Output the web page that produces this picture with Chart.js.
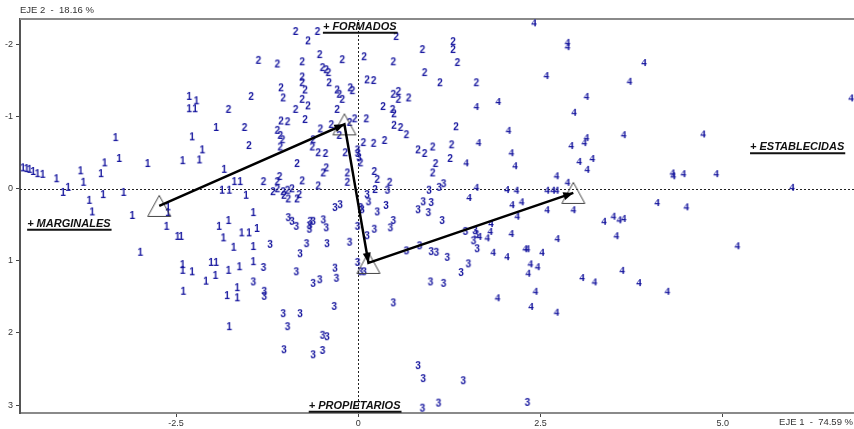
<!DOCTYPE html>
<html>
<head>
<meta charset="utf-8">
<script src="https://cdn.jsdelivr.net/npm/chart.js@4"></script>
<style>
html, body { margin: 0; padding: 0; background: #fff; }
#wrap { width: 854px; height: 429px; position: relative; }
</style>
</head>
<body>
<div id="wrap"><canvas id="mapChart"></canvas></div>
<script>
// axis ticks
const xTicks = [-2.5, 0, 2.5, 5.0];
const xTickLabels = ['-2.5', '0', '2.5', '5.0'];
const yTicks = [-2, -1, 0, 1, 2, 3];
const xTitle = 'EJE 1  -  74.59 %';
const yTitle = 'EJE 2  -  18.16 %';

// individuals, coordinates on (eje 1, eje 2)
const group1 = [
    [-4.60,-0.28],[-4.55,-0.27],[-4.51,-0.26],[-4.46,-0.23],[-4.40,-0.20],[-4.33,-0.19],[-4.14,-0.13],[-4.05,0.06],
    [-3.98,-0.01],[-3.81,-0.24],[-3.77,-0.08],[-3.69,0.17],[-3.65,0.33],[-3.53,-0.20],[-3.50,0.09],[-3.48,-0.35],
    [-3.33,-0.70],[-3.28,-0.41],[-3.22,0.06],[-3.10,0.38],[-2.99,0.89],[-2.89,-0.34],[-2.63,0.53],[-2.61,0.26],
    [-2.61,0.34],[-2.48,0.67],[-2.43,0.67],[-2.41,-0.38],[-2.41,1.06],[-2.41,1.14],[-2.40,1.43],[-2.32,-1.27],
    [-2.32,-1.10],[-2.24,-1.10],[-2.22,-1.21],[-2.28,-0.71],[-2.28,1.16],[-2.18,-0.39],[-2.14,-0.53],[-2.09,1.29],
    [-2.02,1.03],[-1.95,1.03],[-1.96,1.21],[-1.95,-0.84],[-1.91,0.53],[-1.87,0.03],[-1.77,0.03],[-1.85,0.69],
    [-1.84,-0.26],[-1.78,0.45],[-1.78,1.14],[-1.80,1.49],[-1.77,1.92],[-1.71,0.82],[-1.70,-0.09],[-1.62,-0.09],
    [-1.66,1.38],[-1.66,1.52],[-1.63,1.09],[-1.60,0.62],[-1.54,0.10],[-1.50,0.62],[-1.44,0.34],[-1.44,0.81],
    [-1.44,1.02],[-1.39,0.56]
];
const group2 = [
    [-0.86,-2.17],[-0.69,-2.04],[-0.56,-2.17],[0.52,-2.10],[0.88,-1.92],[1.30,-2.03],[1.30,-1.92],[1.36,-1.74],
    [-1.37,-1.77],[-1.11,-1.72],[-0.77,-1.75],[-0.53,-1.85],[-0.49,-1.67],[-0.44,-1.64],[-0.41,-1.60],[-0.22,-1.78],
    [0.08,-1.82],[0.48,-1.75],[0.91,-1.60],[-0.77,-1.54],[-0.77,-1.46],[-0.73,-1.36],[-1.06,-1.39],[-1.03,-1.25],
    [-1.47,-1.27],[-0.77,-1.23],[-0.69,-1.14],[-0.86,-1.09],[-1.78,-1.09],[-0.40,-1.46],[-0.29,-1.36],[-0.26,-1.30],
    [-0.22,-1.23],[-0.11,-1.39],[-0.08,-1.35],[0.12,-1.50],[0.21,-1.49],[1.12,-1.46],[1.62,-1.46],[0.48,-1.30],
    [0.55,-1.34],[0.55,-1.23],[0.69,-1.25],[-0.29,-1.09],[0.34,-1.13],[0.47,-1.09],[0.49,-1.03],[-1.06,-0.93],
    [-0.97,-0.92],[-0.73,-0.95],[-1.56,-0.84],[-1.11,-0.80],[-1.07,-0.73],[-0.52,-0.82],[-0.37,-0.88],[-0.12,-0.91],
    [-0.05,-0.96],[0.11,-0.96],[0.49,-0.87],[0.58,-0.84],[0.66,-0.74],[1.34,-0.85],[-0.26,-0.73],[0.07,-0.63],
    [0.21,-0.62],[0.36,-0.66],[1.02,-0.57],[1.28,-0.60],[0.82,-0.53],[0.91,-0.48],[1.06,-0.34],[1.02,-0.21],
    [1.26,-0.41],[-1.04,-0.67],[-1.07,-0.57],[-1.50,-0.59],[-0.62,-0.67],[-0.63,-0.57],[-0.55,-0.49],[-0.45,-0.48],
    [-0.84,-0.34],[-0.44,-0.28],[-0.48,-0.21],[-1.30,-0.09],[-1.08,-0.16],[-1.11,-0.09],[-0.77,-0.10],[-0.55,-0.03],
    [-1.17,0.05],[-1.11,0.01],[-1.03,0.05],[-0.97,0.03],[-0.91,0.01],[-1.02,0.10],[-0.96,0.15],[-0.84,0.15],
    [-0.81,0.09],[-0.15,-0.21],[-0.15,-0.08],[-0.18,-0.49],[0.03,-0.35],[0.22,-0.23],[0.26,-0.12],[0.43,-0.08],
    [0.23,0.02]
];
const group3 = [
    [-0.01,-0.53],[-0.01,-0.48],[0.01,-0.42],[0.12,0.09],[0.14,0.19],[0.03,0.27],[0.05,0.30],[-0.32,0.27],
    [-0.25,0.23],[0.26,0.33],[0.38,0.24],[0.40,0.03],[0.97,0.03],[1.11,-0.01],[1.17,-0.06],[0.89,0.19],
    [1.00,0.20],[0.82,0.30],[0.96,0.34],[1.15,0.45],[0.48,0.45],[0.44,0.55],[0.22,0.57],[-0.01,0.53],
    [0.12,0.66],[-0.66,0.46],[-0.62,0.46],[-0.67,0.52],[-0.67,0.57],[-0.48,0.44],[-0.44,0.55],[-0.96,0.41],
    [-0.91,0.46],[-0.85,0.53],[-0.71,0.77],[-0.43,0.77],[-0.12,0.75],[-0.80,0.91],[-1.21,0.78],[1.47,0.60],
    [1.60,0.59],[1.62,0.64],[1.58,0.73],[1.63,0.84],[0.66,0.87],[0.84,0.80],[1.00,0.88],[1.07,0.89],
    [1.22,0.96],[1.51,1.05],[1.41,1.17],[-0.01,1.03],[0.03,1.16],[0.08,1.16],[-0.32,1.11],[-0.30,1.25],
    [-0.62,1.32],[-0.53,1.27],[0.99,1.30],[1.17,1.32],[-1.30,1.10],[-0.85,1.16],[-1.44,1.30],[-1.29,1.43],
    [-1.29,1.50],[-0.33,1.64],[-1.03,1.74],[-0.80,1.74],[-0.97,1.92],[-0.49,2.04],[-0.43,2.06],[-1.02,2.24],
    [-0.62,2.31],[-0.49,2.25],[0.48,1.59],[0.82,2.46],[0.89,2.64],[1.44,2.67],[1.10,2.98],[0.88,3.05],
    [2.32,2.97]
];
const group4 = [
    [2.41,-2.29],[2.87,-2.02],[2.87,-1.96],[2.58,-1.56],[3.13,-1.27],[2.96,-1.05],[3.13,-0.70],[3.10,-0.63],
    [2.92,-0.59],[1.62,-1.13],[1.92,-1.20],[1.65,-0.63],[2.06,-0.80],[3.92,-1.74],[3.72,-1.48],[6.76,-1.25],
    [3.64,-0.74],[4.73,-0.75],[2.10,-0.49],[1.48,-0.35],[2.15,-0.31],[3.03,-0.37],[3.21,-0.41],[3.14,-0.26],
    [2.72,-0.17],[2.87,-0.08],[1.62,-0.01],[1.52,0.13],[2.04,0.02],[2.17,0.03],[2.59,0.03],[2.67,0.03],
    [2.72,0.03],[2.11,0.23],[2.24,0.19],[2.59,0.30],[2.95,0.30],[2.18,0.39],[1.82,0.49],[1.81,0.60],
    [1.66,0.67],[1.77,0.69],[2.10,0.63],[2.73,0.70],[1.85,0.89],[2.04,0.95],[2.29,0.84],[2.32,0.84],
    [2.52,0.89],[2.36,1.05],[2.46,1.09],[2.33,1.18],[3.07,1.24],[3.24,1.30],[2.43,1.43],[1.91,1.52],
    [2.37,1.64],[2.72,1.72],[4.31,-0.21],[4.32,-0.17],[4.46,-0.20],[4.91,-0.20],[5.95,-0.01],[4.10,0.20],
    [4.50,0.26],[3.37,0.46],[3.50,0.39],[3.58,0.44],[3.64,0.42],[3.54,0.66],[5.20,0.80],[3.62,1.14],
    [3.85,1.31],[4.24,1.43]
];

// group centroids, joined in this order by the arrows
const centroids = [[-2.73, 0.24], [-0.19, -0.89], [0.14, 1.03], [2.95, 0.06]];

const poleNames = ['+ MARGINALES', '+ FORMADOS', '+ PROPIETARIOS', '+ ESTABLECIDAS'];
const poleAt = [[-3.97, 0.53], [0.02, -2.20], [-0.05, 3.05], [6.02, -0.53]];

const ink = '#16169e';

function sprite(txt, font, w, h) {
    const c = document.createElement('canvas');
    c.width = w; c.height = h;
    const g = c.getContext('2d');
    g.font = font;
    g.fillStyle = ink;
    g.textAlign = 'center';
    g.textBaseline = 'middle';
    g.fillText(txt, w / 2, h / 2 + 0.5);
    return c;
}

function triangleSprite() {
    const c = document.createElement('canvas');
    c.width = 26; c.height = 24;
    const g = c.getContext('2d');
    g.strokeStyle = '#444';
    g.lineWidth = 1;
    g.beginPath();
    g.moveTo(13, 1.5);
    g.lineTo(24.5, 22.5);
    g.lineTo(1.5, 22.5);
    g.closePath();
    g.stroke();
    return c;
}

const sans = 'bold 10px "Liberation Sans", Arial, sans-serif';
const serif = 'bold 11px "Liberation Serif", "Times New Roman", serif';

const toPts = arr => arr.map(p => ({ x: p[0], y: p[1] }));

function digitSet(arr, txt, font) {
    return {
        type: 'scatter',
        data: toPts(arr),
        pointStyle: sprite(txt, font, 10, 12),
        pointRadius: 5
    };
}

const decor = {
    id: 'decor',
    beforeDatasetsDraw(chart) {
        const { ctx, chartArea: a, scales: { x, y } } = chart;
        ctx.save();
        // dotted zero lines
        ctx.strokeStyle = '#222';
        ctx.lineWidth = 1;
        ctx.setLineDash([2, 2]);
        const x0 = Math.round(x.getPixelForValue(0)) + 0.5;
        const y0 = Math.round(y.getPixelForValue(0)) + 0.5;
        ctx.beginPath();
        ctx.moveTo(x0, a.top); ctx.lineTo(x0, a.bottom);
        ctx.moveTo(a.left, y0); ctx.lineTo(a.right, y0);
        ctx.stroke();
        ctx.setLineDash([]);
        // top frame line
        ctx.strokeStyle = '#8a8a8a';
        ctx.lineWidth = 2;
        ctx.beginPath();
        ctx.moveTo(a.left, a.top); ctx.lineTo(a.right, a.top);
        ctx.stroke();
        ctx.restore();
    },
    afterDatasetsDraw(chart) {
        const { ctx, chartArea: a, scales: { x, y } } = chart;
        ctx.save();
        // arrow heads at the end of each segment
        const pts = chart.getDatasetMeta(0).data;
        ctx.fillStyle = '#000';
        for (let i = 1; i < pts.length; i++) {
            const p = pts[i - 1], q = pts[i];
            const ang = Math.atan2(q.y - p.y, q.x - p.x);
            const len = 10, half = 4;
            ctx.beginPath();
            ctx.moveTo(q.x, q.y);
            ctx.lineTo(q.x - len * Math.cos(ang) + half * Math.sin(ang), q.y - len * Math.sin(ang) - half * Math.cos(ang));
            ctx.lineTo(q.x - len * Math.cos(ang) - half * Math.sin(ang), q.y - len * Math.sin(ang) + half * Math.cos(ang));
            ctx.closePath();
            ctx.fill();
        }
        // pole labels, underlined
        ctx.font = 'italic bold 11px "Liberation Sans", Arial, sans-serif';
        ctx.fillStyle = '#111';
        ctx.strokeStyle = '#111';
        ctx.textAlign = 'center';
        ctx.textBaseline = 'alphabetic';
        poleNames.forEach((t, i) => {
            const px = x.getPixelForValue(poleAt[i][0]);
            const py = y.getPixelForValue(poleAt[i][1]);
            const w = ctx.measureText(t).width;
            ctx.fillText(t, px, py);
            ctx.lineWidth = 2;
            ctx.beginPath();
            ctx.moveTo(px - w / 2, py + 3);
            ctx.lineTo(px + w / 2 + 1, py + 3);
            ctx.stroke();
        });
        // axis titles
        ctx.font = '9.5px "Liberation Sans", Arial, sans-serif';
        ctx.fillStyle = '#333';
        ctx.textBaseline = 'middle';
        ctx.textAlign = 'left';
        ctx.fillText(yTitle, a.left, 10);
        ctx.textAlign = 'right';
        ctx.fillText(xTitle, chart.width - 1, 422);
        ctx.restore();
    }
};

new Chart(document.getElementById('mapChart'), {
    data: {
        datasets: [
            {
                type: 'line',
                data: toPts(centroids),
                borderColor: '#000',
                borderWidth: 2.5,
                pointRadius: 0,
                fill: false,
                tension: 0
            },
            {
                type: 'scatter',
                data: toPts(centroids),
                pointStyle: triangleSprite(),
                pointRadius: 12
            },
            digitSet(group1, '1', sans),
            digitSet(group2, '2', sans),
            digitSet(group3, '3', sans),
            digitSet(group4, '4', serif)
        ]
    },
    options: {
        responsive: true,
        maintainAspectRatio: false,
        animation: false,
        events: [],
        layout: { autoPadding: false, padding: { top: 19, left: 0, right: 0, bottom: 0 } },
        plugins: { legend: { display: false }, tooltip: { enabled: false } },
        scales: {
            x: {
                type: 'linear',
                min: -4.64,
                max: 6.80,
                afterBuildTicks: s => { s.ticks = xTicks.map(v => ({ value: v })); },
                afterFit: s => { s.height = 16; s.paddingLeft = 0; s.paddingRight = 0; },
                ticks: {
                    callback: (v, i) => xTickLabels[i],
                    font: { size: 9, family: '"Liberation Sans", Arial, sans-serif' },
                    color: '#333',
                    padding: 1,
                    maxRotation: 0,
                    autoSkip: false
                },
                grid: { drawOnChartArea: false, tickLength: 4, tickColor: '#444', color: '#444' },
                border: { color: '#8a8a8a', width: 2 }
            },
            y: {
                type: 'linear',
                reverse: true,
                min: -2.35,
                max: 3.11,
                afterBuildTicks: s => { s.ticks = yTicks.map(v => ({ value: v })); },
                afterFit: s => { s.width = 20; s.paddingTop = 0; s.paddingBottom = 0; },
                ticks: {
                    callback: (v, i) => String(yTicks[i]),
                    font: { size: 9, family: '"Liberation Sans", Arial, sans-serif' },
                    color: '#333',
                    padding: 3,
                    autoSkip: false
                },
                grid: { drawOnChartArea: false, tickLength: 4, tickColor: '#444', color: '#444' },
                border: { color: '#555', width: 2 }
            }
        }
    },
    plugins: [decor]
});
</script>
</body>
</html>
